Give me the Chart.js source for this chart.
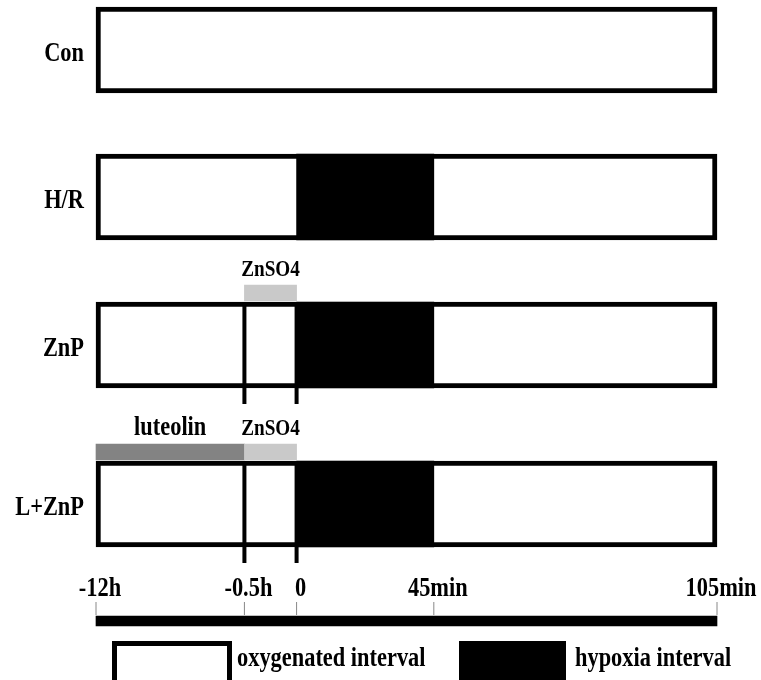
<!DOCTYPE html>
<html>
<head>
<meta charset="utf-8">
<script src="https://cdn.jsdelivr.net/npm/chart.js@4.4.1/dist/chart.umd.min.js"></script>
<style>
    body { margin: 0; background: #fff; }
    #wrap { width: 761px; height: 680px; }
</style>
</head>
<body>
<div id="wrap"><canvas id="protocolChart" width="761" height="680"></canvas></div>
<script>
// Groups, one row each, top to bottom
const groups = ['Con', 'H/R', 'ZnP', 'L+ZnP'];

// Timeline ticks and their schematic place along the bar (0 = start, 100 = end)
const tickLabels = ['-12h', '-0.5h', '0', '45min', '105min'];
const tickPos = [0, 23.9, 32.3, 54.4, 100];

// Hypoxia interval per group (null = none)
const hypoxiaFrom = [null, '0', '0', '0'];
const hypoxiaTo = [null, '45min', '45min', '45min'];

// Pre-treatments
const treatGroup = ['ZnP', 'L+ZnP', 'L+ZnP'];
const treatAgent = ['ZnSO4', 'luteolin', 'ZnSO4'];
const treatFrom = ['-0.5h', '-12h', '-0.5h'];
const treatTo = ['0', '-0.5h', '0'];

// Marker lines through the boxes
const markerGroup = ['ZnP', 'ZnP', 'L+ZnP', 'L+ZnP'];
const markerAt = ['-0.5h', '0', '-0.5h', '0'];

// Legend texts
const legendLabels = ['oxygenated interval', 'hypoxia interval'];

// ---- layout (pixels on the vertical scale) ----
const rowY = { 'Con': 50, 'H/R': 197, 'ZnP': 345, 'L+ZnP': 504 };
const timelineY = 621;
const agentColor = { 'ZnSO4': '#c9c9c9', 'luteolin': '#838383' };

function pos(label) {
    return tickPos[tickLabels.indexOf(label)];
}

function condensedText(ctx, text, x, y, size, align) {
    ctx.save();
    ctx.font = 'bold ' + size + 'px "Liberation Serif"';
    ctx.fillStyle = '#000';
    ctx.textAlign = align || 'center';
    ctx.textBaseline = 'alphabetic';
    ctx.translate(x, y);
    ctx.scale(0.8, 1);
    ctx.fillText(text, 0, 0);
    ctx.restore();
}

const labelsPlugin = {
    id: 'labels',
    afterDraw(chart) {
        const ctx = chart.ctx;
        const xs = chart.scales.x;
        const ys = chart.scales.y;

        // group names
        groups.forEach(function(g) {
            condensedText(ctx, g, 84, ys.getPixelForValue(rowY[g]) + 11, 28, 'right');
        });

        // agent names above the treatment bars
        treatAgent.forEach(function(a, i) {
            const mid = (pos(treatFrom[i]) + pos(treatTo[i])) / 2;
            const y = ys.getPixelForValue(rowY[treatGroup[i]]) - 69;
            condensedText(ctx, a, xs.getPixelForValue(mid), y, a === 'ZnSO4' ? 24 : 28);
        });

        // timeline tick labels
        tickLabels.forEach(function(t, i) {
            condensedText(ctx, t, xs.getPixelForValue(tickPos[i]) + 4, ys.getPixelForValue(timelineY) - 25, 28);
        });

        // legend
        ctx.save();
        ctx.fillStyle = '#000';
        ctx.fillRect(112, 641, 120, 50);
        ctx.fillStyle = '#fff';
        ctx.fillRect(117, 646, 110, 40);
        ctx.fillStyle = '#000';
        ctx.fillRect(459, 641, 107, 50);
        ctx.restore();
        condensedText(ctx, legendLabels[0], 237, 666, 28, 'left');
        condensedText(ctx, legendLabels[1], 575, 666, 28, 'left');
    }
};

const datasets = [];

// white boxes, one per group
datasets.push({
    type: 'bar',
    label: legendLabels[0],
    data: groups.map(function(g) {
        return { x: [pos('-12h'), pos('105min')], y: rowY[g] };
    }),
    backgroundColor: '#fff',
    borderColor: '#000',
    borderWidth: 5,
    borderSkipped: false,
    barThickness: 86,
    grouped: false,
    order: 6
});

// hypoxia blocks
datasets.push({
    type: 'bar',
    label: legendLabels[1],
    data: groups.map(function(g, i) {
        return hypoxiaFrom[i] === null ? null : { x: [pos(hypoxiaFrom[i]), pos(hypoxiaTo[i])], y: rowY[g] };
    }).filter(function(d) { return d !== null; }),
    backgroundColor: '#000',
    borderWidth: 0,
    barThickness: 86,
    grouped: false,
    order: 5
});

// treatment bars
datasets.push({
    type: 'bar',
    label: 'treatment',
    data: treatGroup.map(function(g, i) {
        return { x: [pos(treatFrom[i]), pos(treatTo[i])], y: rowY[g] - 52 };
    }),
    backgroundColor: treatAgent.map(function(a) { return agentColor[a]; }),
    borderWidth: 0,
    barThickness: 16,
    grouped: false,
    order: 4
});

// timeline bar
datasets.push({
    type: 'bar',
    label: 'timeline',
    data: [{ x: [pos('-12h'), pos('105min')], y: timelineY }],
    backgroundColor: '#000',
    borderWidth: 0,
    barThickness: 10,
    grouped: false,
    order: 3
});

// marker lines
markerGroup.forEach(function(g, i) {
    datasets.push({
        type: 'line',
        label: 'marker',
        indexAxis: 'x',
        data: [
            { x: pos(markerAt[i]), y: rowY[g] - 43 },
            { x: pos(markerAt[i]), y: rowY[g] + 59 }
        ],
        borderColor: '#000',
        borderWidth: 4,
        pointRadius: 0,
        fill: false,
        order: 2
    });
});

// tick marks on the timeline
datasets.push({
    type: 'scatter',
    label: 'ticks',
    data: tickPos.map(function(p) { return { x: p, y: timelineY - 12.5 }; }),
    pointStyle: 'line',
    rotation: 90,
    radius: 6.5,
    borderColor: '#888',
    borderWidth: 1,
    order: 1
});

new Chart(document.getElementById('protocolChart').getContext('2d'), {
    type: 'bar',
    data: { datasets: datasets },
    options: {
        indexAxis: 'y',
        responsive: false,
        animation: false,
        events: [],
        layout: { autoPadding: false, padding: { left: 96, right: 44, top: 0, bottom: 0 } },
        datasets: { bar: { clip: false }, line: { clip: false }, scatter: { clip: false } },
        plugins: {
            legend: { display: false },
            tooltip: { enabled: false }
        },
        scales: {
            x: { type: 'linear', min: 0, max: 100, offset: false, display: false },
            y: { type: 'linear', min: 0, max: 680, reverse: true, offset: false, display: false }
        }
    },
    plugins: [labelsPlugin]
});
</script>
</body>
</html>
